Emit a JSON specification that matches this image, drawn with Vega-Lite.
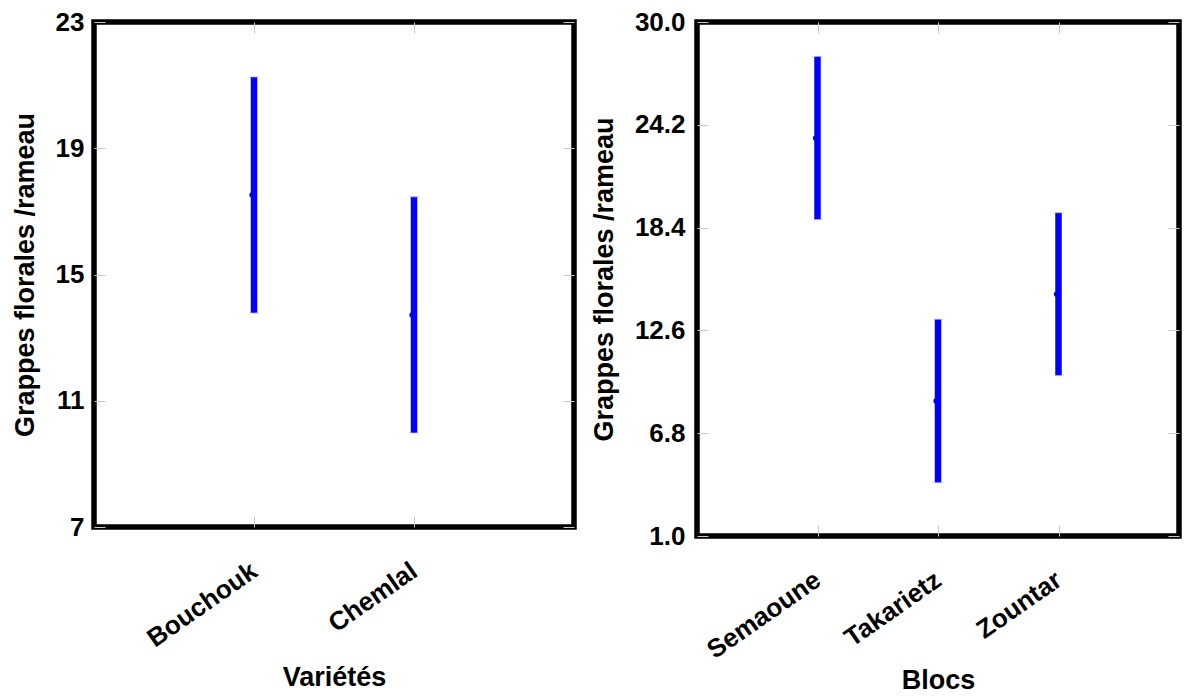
{
  "$schema": "https://vega.github.io/schema/vega-lite/v6.json",
  "autosize": {"type": "pad"},
  "padding": {"left": 8, "top": 6, "right": 0, "bottom": 0},
  "background": "white",
  "config": {
    "font": "Liberation Sans",
    "view": {"stroke": "black", "strokeWidth": 5.5},
    "axis": {
      "labelFont": "Liberation Sans",
      "titleFont": "Liberation Sans",
      "labelFontWeight": "bold",
      "titleFontWeight": "bold",
      "labelFontSize": 26,
      "titleFontSize": 27,
      "labelColor": "black",
      "titleColor": "black",
      "domain": false,
      "grid": false,
      "tickColor": "#c8c8c8",
      "tickWidth": 1,
      "tickSize": -11
    }
  },
  "datasets": {
    "varietes": [
      {"Variété": "Bouchouk", "lo": 13.78, "mean": 17.52, "hi": 21.26},
      {"Variété": "Chemlal", "lo": 9.98, "mean": 13.72, "hi": 17.46}
    ],
    "blocs": [
      {"Bloc": "Semaoune", "lo": 18.85, "mean": 23.45, "hi": 28.06},
      {"Bloc": "Takarietz", "lo": 4.01, "mean": 8.62, "hi": 13.23},
      {"Bloc": "Zountar", "lo": 10.05, "mean": 14.65, "hi": 19.24}
    ]
  },
  "spacing": 9,
  "hconcat": [
    {
      "width": 480,
      "height": 505,
      "data": {"name": "varietes"},
      "resolve": {"axis": {"x": "independent", "y": "independent"}},
      "layer": [
        {
          "mark": {"type": "rule", "color": "#0000ff", "strokeWidth": 6.5},
          "encoding": {
            "x": {"field": "Variété", "type": "nominal", "sort": null, "scale": {"type": "point", "padding": 1},
                  "axis": {"orient": "bottom", "title": "Variétés", "labelAngle": -35, "labelAlign": "right", "labelBaseline": "middle", "labelPadding": 52, "titlePadding": 13}},
            "y": {"field": "lo", "type": "quantitative", "scale": {"domain": [7, 23], "nice": false, "zero": false},
                  "axis": {"orient": "left", "values": [7, 11, 15, 19, 23], "title": "Grappes florales /rameau", "labelPadding": 21, "titlePadding": 16}},
            "y2": {"field": "hi"}
          }
        },
        {
          "mark": {"type": "tick", "color": "#b8b8ff", "thickness": 1, "size": 10},
          "encoding": {
            "x": {"field": "Variété", "type": "nominal", "sort": null, "scale": {"type": "point", "padding": 1},
                  "axis": {"orient": "top", "labels": false, "title": null}},
            "y": {"field": "lo", "type": "quantitative", "scale": {"domain": [7, 23], "nice": false, "zero": false},
                  "axis": {"orient": "right", "values": [7, 11, 15, 19, 23], "labels": false, "title": null}}
          }
        },
        {
          "mark": {"type": "tick", "color": "#b8b8ff", "thickness": 1, "size": 10},
          "encoding": {
            "x": {"field": "Variété", "type": "nominal", "sort": null, "axis": null},
            "y": {"field": "hi", "type": "quantitative", "axis": null}
          }
        },
        {
          "mark": {"type": "circle", "color": "#0000ff", "size": 28, "opacity": 1, "xOffset": -2},
          "encoding": {
            "x": {"field": "Variété", "type": "nominal", "sort": null, "axis": null},
            "y": {"field": "mean", "type": "quantitative", "axis": null}
          }
        }
      ]
    },
    {
      "width": 482,
      "height": 514,
      "data": {"name": "blocs"},
      "resolve": {"axis": {"x": "independent", "y": "independent"}},
      "layer": [
        {
          "mark": {"type": "rule", "color": "#0000ff", "strokeWidth": 6.5},
          "encoding": {
            "x": {"field": "Bloc", "type": "nominal", "sort": null, "scale": {"type": "point", "padding": 1},
                  "axis": {"orient": "bottom", "title": "Blocs", "labelAngle": -35, "labelAlign": "right", "labelBaseline": "middle", "labelPadding": 52, "titlePadding": 4}},
            "y": {"field": "lo", "type": "quantitative", "scale": {"domain": [1, 30], "nice": false, "zero": false},
                  "axis": {"orient": "left", "values": [1, 6.8, 12.6, 18.4, 24.2, 30], "format": ".1f", "title": "Grappes florales /rameau", "labelPadding": 23, "titlePadding": 16}},
            "y2": {"field": "hi"}
          }
        },
        {
          "mark": {"type": "tick", "color": "#b8b8ff", "thickness": 1, "size": 10},
          "encoding": {
            "x": {"field": "Bloc", "type": "nominal", "sort": null, "scale": {"type": "point", "padding": 1},
                  "axis": {"orient": "top", "labels": false, "title": null}},
            "y": {"field": "lo", "type": "quantitative", "scale": {"domain": [1, 30], "nice": false, "zero": false},
                  "axis": {"orient": "right", "values": [1, 6.8, 12.6, 18.4, 24.2, 30], "labels": false, "title": null}}
          }
        },
        {
          "mark": {"type": "tick", "color": "#b8b8ff", "thickness": 1, "size": 10},
          "encoding": {
            "x": {"field": "Bloc", "type": "nominal", "sort": null, "axis": null},
            "y": {"field": "hi", "type": "quantitative", "axis": null}
          }
        },
        {
          "mark": {"type": "circle", "color": "#0000ff", "size": 28, "opacity": 1, "xOffset": -2},
          "encoding": {
            "x": {"field": "Bloc", "type": "nominal", "sort": null, "axis": null},
            "y": {"field": "mean", "type": "quantitative", "axis": null}
          }
        }
      ]
    }
  ]
}
